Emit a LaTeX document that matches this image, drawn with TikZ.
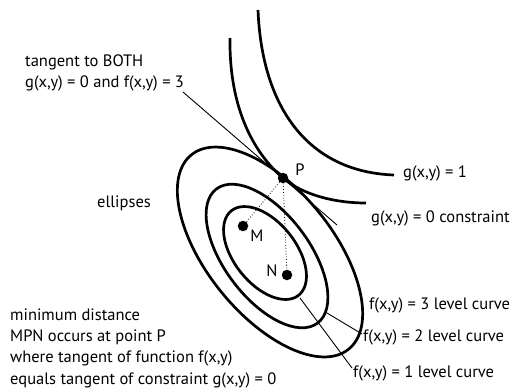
\documentclass[tikz,border=0pt]{standalone}
\usepackage{fontspec}
\setmainfont{PT Sans}
\begin{document}
\begin{tikzpicture}[x=1pt,y=-1pt,
  curve/.style={line width=2.7pt},
  lead/.style={line width=0.9pt},
  dots/.style={line width=0.8pt,dotted},
  lbl/.style={anchor=west,inner sep=0pt,font=\fontsize{16.5}{19}\selectfont},
  plbl/.style={inner sep=0pt,font=\fontsize{16.5}{19}\selectfont},
  pt/.style={circle,fill,inner sep=0pt,minimum size=10.5pt}]
\useasboundingbox (0,0) rectangle (529,389);
% level curves (ellipses)
\draw[curve, rotate around={-51:(270,252)}] (270,252) ellipse [x radius=125pt, y radius=63pt];
\draw[curve, rotate around={-53:(267,256)}] (267,256) ellipse [x radius=84pt, y radius=42.5pt];
\draw[curve, rotate around={-51.5:(265,253)}] (265,253) ellipse [x radius=54pt, y radius=31pt];
% points
\node[pt] (P) at (283,178) {};
\node[pt] (M) at (243,226) {};
\node[pt] (N) at (287,275) {};
% constraint curves
\draw[curve] (230,38) .. controls (229,110) and (255,154) .. (P.center)
             .. controls (303,195) and (335,203) .. (366,203);
\draw[curve] (258,10) .. controls (262,110) and (310,172) .. (394,175);
\draw[dots] (P.center) -- (M.center);
\draw[dots] (P.center) -- (N.center);
\node[plbl] (Pl) at (300,170) {P};
\node[plbl] (Ml) at (257,236) {M};
\node[plbl] (Nl) at (272,271) {N};
% tangent line
\coordinate (t1) at (183,92);
\coordinate (t2) at (337,225);
\draw[lead] (t1) -- (t2);
% leaders
\coordinate (l2a) at (327,313);
\coordinate (l2b) at (362,334);
\draw[lead] (l2a) -- (l2b);
\coordinate (l1a) at (300,298);
\coordinate (l1b) at (352,368);
\draw[lead] (l1a) -- (l1b);
% labels
\node[lbl] (tb1) at (25,62) {tangent to BOTH};
\node[lbl] (tb2) at (25,83) {g(x,y) = 0 and f(x,y) = 3};
\node[lbl] (ell) at (97,203) {ellipses};
\node[lbl] (g1) at (403,173) {g(x,y) = 1};
\node[lbl] (g0) at (371,218) {g(x,y) = 0 constraint};
\node[lbl] (f3) at (369,305) {f(x,y) = 3 level curve};
\node[lbl] (f2) at (363,337) {f(x,y) = 2 level curve};
\node[lbl] (f1) at (353,373) {f(x,y) = 1 level curve};
\node[lbl] (m1) at (10,315) {minimum distance};
\node[lbl] (m2) at (10,337) {MPN occurs at point P};
\node[lbl] (m3) at (10,358) {where tangent of function f(x,y)};
\node[lbl] (m4) at (10,380) {equals tangent of constraint g(x,y) = 0};
\end{tikzpicture}
\end{document}
